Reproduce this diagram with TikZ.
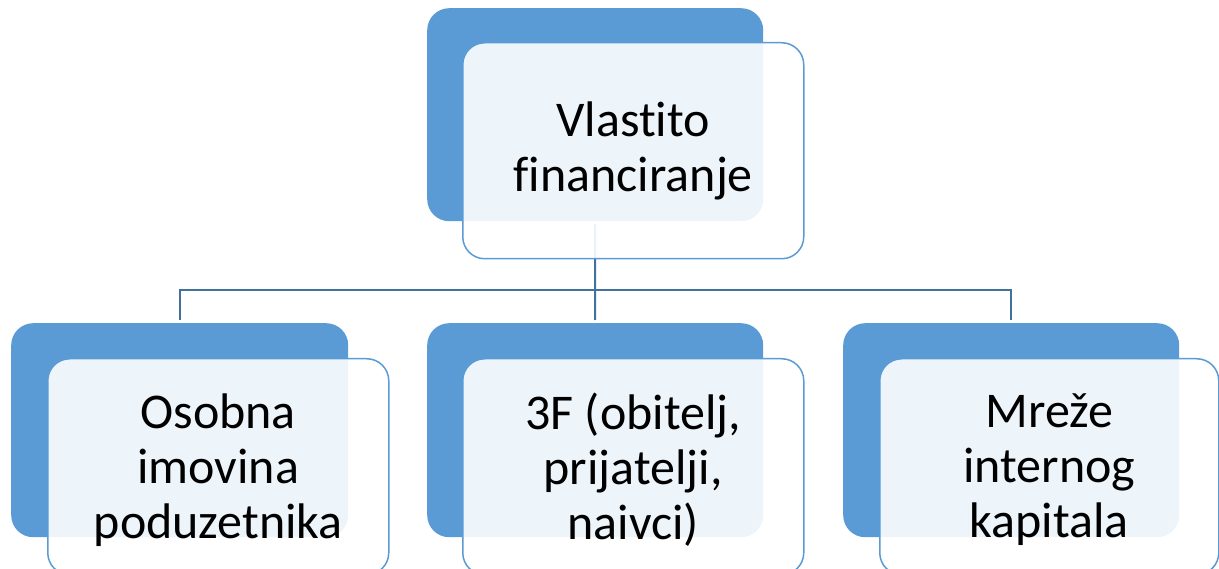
\documentclass[tikz,border=0pt]{standalone}
\usepackage{fontspec}
\setmainfont[Ligatures=NoCommon]{Carlito}
\definecolor{boxblue}{HTML}{5B9BD5}
\definecolor{linkblue}{HTML}{41719C}
\tikzset{
  bluebox/.style={fill=boxblue, draw=none, rounded corners=22pt, anchor=north west, inner sep=0pt},
  whitebox/.style={fill=white, fill opacity=0.9, draw=boxblue, line width=1.5pt, rounded corners=22pt, anchor=north west, inner sep=0pt, minimum width=341pt, minimum height=216pt},
  label/.style={align=center, font=\fontsize{50}{55}\selectfont, text=black},
  conn/.style={draw=linkblue, line width=2pt}
}
\begin{document}
\begin{tikzpicture}[x=1pt,y=-1pt]
\useasboundingbox (0,0) rectangle (1219,569);
\clip (0,0) rectangle (1219,569);
% blue back boxes
\node[bluebox, minimum width=336pt, minimum height=213pt] (b0) at (427,8) {};
\node[bluebox, minimum width=337pt, minimum height=214pt] (b1) at (11,323) {};
\node[bluebox, minimum width=336pt, minimum height=214pt] (b2) at (427,323) {};
\node[bluebox, minimum width=336pt, minimum height=214pt] (b3) at (843,323) {};
% connectors
\coordinate (j) at (595,290);
\draw[conn, shorten <=3pt] (b0.south) -- (j);
\draw[conn, shorten >=3pt] (j) -- (b2.north);
\draw[conn, shorten >=3pt] (j) -| (b1.north);
\draw[conn, shorten >=3pt] (j) -| (b3.north);
% front boxes
\node[whitebox] (w0) at (462,42) {};
\node[whitebox] (w1) at (47,358) {};
\node[whitebox] (w2) at (462,358) {};
\node[whitebox, minimum width=339pt] (w3) at (879,358) {};
% labels
\node[label] (t0) at (w0.center) {Vlastito\\financiranje};
\node[label] (t1) at ([yshift=-3pt]w1.center) {Osobna\\imovina\\poduzetnika};
\node[label] (t2) at ([yshift=-3pt]w2.center) {3F (obitelj,\\prijatelji,\\naivci)};
\node[label] (t3) at ([yshift=-3pt]w3.center) {Mreže\\internog\\kapitala};
\end{tikzpicture}
\end{document}
